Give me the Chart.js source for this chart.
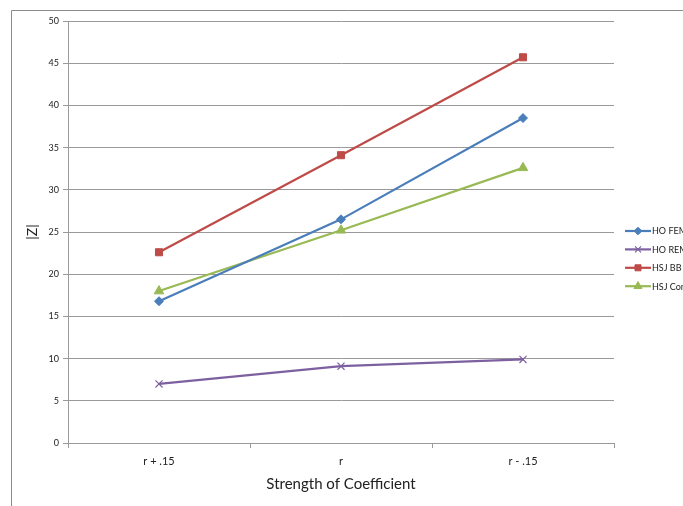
<!DOCTYPE html>
<html>
<head>
<meta charset="utf-8">
<script src="https://cdn.jsdelivr.net/npm/chart.js@4.4.1/dist/chart.umd.min.js"></script>
<style>
  html,body{margin:0;padding:0;background:#fff;}
  #wrap{position:absolute;left:0;top:0;width:683px;height:506px;}
</style>
</head>
<body>
<div id="wrap"><canvas id="chart" width="683" height="506"></canvas></div>
<script>
const categories = ['r + .15', 'r', 'r - .15'];
const hoFem = [16.8, 26.5, 38.5];
const hoRem = [7.0, 9.1, 9.9];
const hsjBB = [22.6, 34.1, 45.7];
const hsjCon = [18.0, 25.2, 32.6];
const seriesNames = ['HO FEM', 'HO REM', 'HSJ BB', 'HSJ Con'];
const yMin = 0, yMax = 50, yStep = 5;

const FONT = "Lato, 'Open Sans', sans-serif";
const gridColor = '#9a9a9a';

function ds(label, data, color, style, r){
  return {label, data, borderColor:color, backgroundColor:color, borderWidth:2.2,
    pointStyle:style, pointRadius:r, pointHoverRadius:r, pointBorderWidth: style==='crossRot'?1.2:1,
    tension:0, fill:false};
}

// frame + legend drawn by hand (legend is cropped at the right edge in the original)
const extras = {
  id:'extras',
  afterDraw(chart){
    const c = chart.ctx;
    c.save();
    c.strokeStyle = '#8c8c8c'; c.lineWidth = 1;
    c.beginPath(); c.moveTo(11.5, 506); c.lineTo(11.5, 10.5); c.lineTo(683, 10.5); c.stroke();
    chart.data.datasets.forEach((d,i)=>{
      const y = 231 + i*18.4;
      c.strokeStyle = d.borderColor; c.lineWidth = 2.2;
      c.beginPath(); c.moveTo(625, y); c.lineTo(651, y); c.stroke();
      c.fillStyle = d.borderColor; c.lineWidth = d.pointBorderWidth;
      Chart.helpers.drawPoint(c, {pointStyle:d.pointStyle, radius:d.pointRadius*0.85, borderWidth:d.pointBorderWidth, rotation:0}, 638, y);
      c.fillStyle = '#222'; c.font = '9px ' + FONT; c.textBaseline = 'middle'; c.textAlign = 'left';
      c.fillText(seriesNames[i], 652, y + 0.5);
    });
    c.restore();
  }
};

new Chart(document.getElementById('chart'), {
  type:'line',
  data:{
    labels:categories,
    datasets:[
      ds(seriesNames[0], hoFem, '#4a7ebb', 'rectRot', 4.5),
      ds(seriesNames[1], hoRem, '#7d60a0', 'crossRot', 5),
      ds(seriesNames[2], hsjBB, '#be4b48', 'rect', 5),
      ds(seriesNames[3], hsjCon, '#98b954', 'triangle', 5.5)
    ]
  },
  options:{
    responsive:false, animation:false,
    layout:{padding:{left:24, right:69, top:21, bottom:13}},
    plugins:{legend:{display:false}, tooltip:{enabled:false}},
    scales:{
      x:{
        offset:true,
        grid:{drawOnChartArea:false, offset:true, color:gridColor, tickLength:5},
        border:{color:gridColor},
        ticks:{color:'#222', font:{family:FONT, size:11}, padding:7},
        title:{display:true, text:'Strength of Coefficient', color:'#222', font:{family:FONT, size:15}, padding:{top:4, bottom:0}},
        afterFit(s){ s.height = 50; }
      },
      y:{
        min:yMin, max:yMax,
        ticks:{stepSize:yStep, color:'#222', font:{family:FONT, size:9}, padding:4},
        grid:{color:gridColor, tickLength:5},
        border:{color:gridColor},
        title:{display:true, text:'|Z|', color:'#222', font:{family:FONT, size:14}, padding:{top:0, bottom:0}},
        afterFit(s){ s.width = 44; }
      }
    }
  },
  plugins:[extras]
});
</script>
</body>
</html>
